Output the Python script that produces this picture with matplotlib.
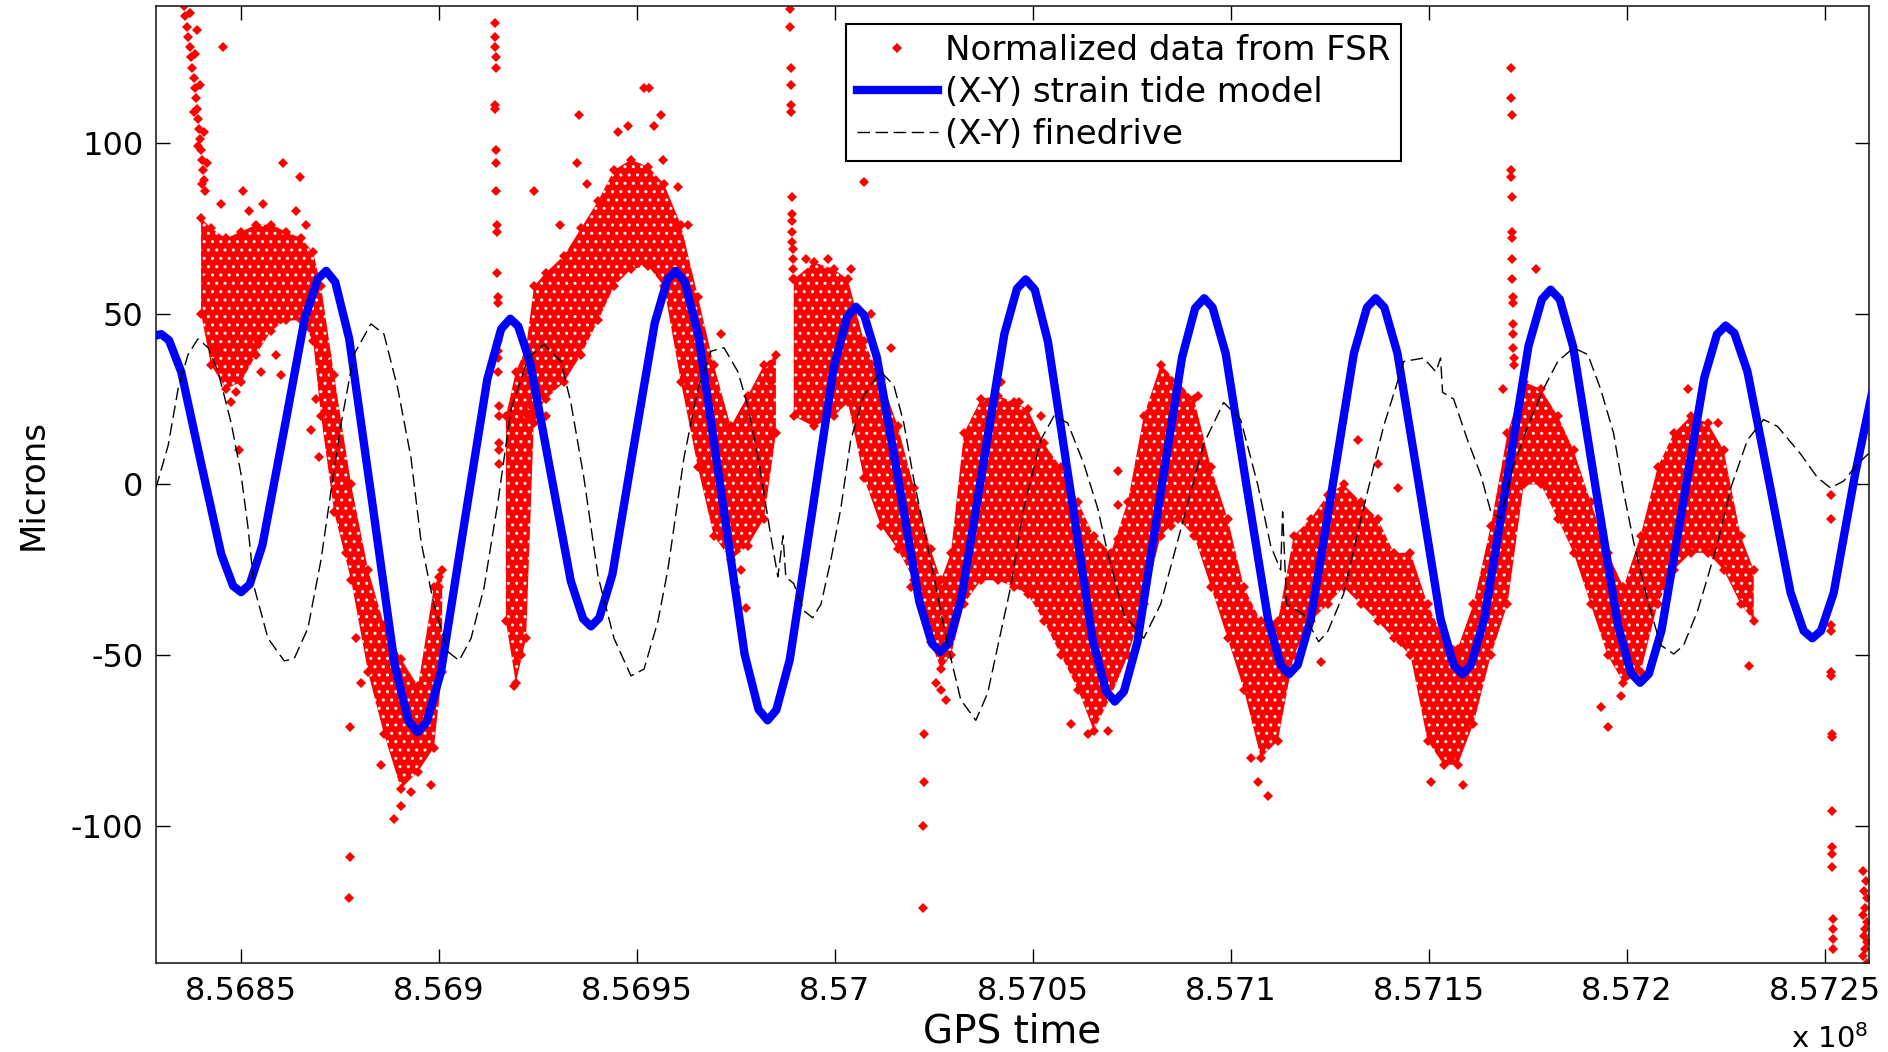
import matplotlib
matplotlib.use("Agg")
import matplotlib.pyplot as plt

nan = float('nan')

# GPS time is given in units of 1e8 s (the axis carries "x 10^8")

# (X-Y) strain tide model
tide_t = [8.568285, 8.568298, 8.568318, 8.568349, 8.568399, 8.568450, 8.568480,
          8.568500, 8.568522, 8.568554, 8.568608, 8.568661, 8.568694,
          8.568715, 8.568738, 8.568773, 8.568831, 8.568888, 8.568923,
          8.568946, 8.568969, 8.569005, 8.569063, 8.569122, 8.569157,
          8.569180, 8.569200, 8.569231, 8.569282, 8.569333, 8.569364,
          8.569384, 8.569405, 8.569438, 8.569491, 8.569545, 8.569577,
          8.569598, 8.569621, 8.569656, 8.569714, 8.569772, 8.569807,
          8.569830, 8.569852, 8.569886, 8.569942, 8.569997, 8.570031,
          8.570053, 8.570074, 8.570106, 8.570160, 8.570213, 8.570245,
          8.570266, 8.570288, 8.570320, 8.570374, 8.570428, 8.570460,
          8.570482, 8.570505, 8.570538, 8.570595, 8.570651, 8.570685,
          8.570707, 8.570730, 8.570764, 8.570820, 8.570877, 8.570910,
          8.570933, 8.570954, 8.570987, 8.571040, 8.571094, 8.571126,
          8.571147, 8.571169, 8.571202, 8.571257, 8.571311, 8.571344,
          8.571366, 8.571388, 8.571421, 8.571476, 8.571530, 8.571563,
          8.571585, 8.571607, 8.571641, 8.571697, 8.571752, 8.571786,
          8.571808, 8.571831, 8.571865, 8.571921, 8.571978, 8.572011,
          8.572034, 8.572056, 8.572088, 8.572142, 8.572196, 8.572228,
          8.572250, 8.572272, 8.572305, 8.572360, 8.572414, 8.572447,
          8.572469, 8.572491, 8.572523, 8.572577, 8.572631]
tide_um = [43.6, 44.0, 42.2, 32.9, 6.2, -20.4, -29.7,
           -31.5, -29.2, -17.7, 15.5, 48.7, 60.2,
           62.5, 59.2, 42.7, -5.0, -52.7, -69.2,
           -72.5, -69.5, -54.8, -12.0, 30.8, 45.5,
           48.5, 46.3, 35.3, 3.5, -28.3, -39.3,
           -41.5, -39.0, -26.3, 10.5, 47.3, 60.0,
           62.5, 59.3, 43.2, -3.2, -49.7, -65.8,
           -69.0, -66.0, -51.3, -8.5, 34.3, 49.0,
           52.0, 49.5, 37.2, 1.5, -34.2, -46.5,
           -49.0, -46.3, -33.0, 5.5, 44.0, 57.3,
           60.0, 57.0, 41.9, -1.8, -45.4, -60.5,
           -63.5, -60.6, -46.2, -4.5, 37.2, 51.6,
           54.5, 51.8, 38.4, -0.5, -39.4, -52.8,
           -55.5, -52.8, -39.4, -0.5, 38.4, 51.8,
           54.5, 51.8, 38.4, -0.5, -39.4, -52.8,
           -55.5, -52.7, -39.0, 0.8, 40.5, 54.2,
           57.0, 54.2, 40.2, -0.5, -41.2, -55.2,
           -58.0, -55.4, -42.7, -5.8, 31.2, 43.9,
           46.5, 44.3, 33.1, 0.8, -31.6, -42.8,
           -45.0, -42.8, -31.7, 3.0, 33.0]

# (X-Y) finedrive
fine_t = [8.568285, 8.568316, 8.568341, 8.568366, 8.568391, 8.568417, 8.568442, 8.568475,
          8.568500, 8.568518, 8.568533, 8.568568, 8.568609, 8.568634, 8.568669, 8.568702,
          8.568727, 8.568753, 8.568785, 8.568828, 8.568861, 8.568896, 8.568929, 8.568955,
          8.568987, 8.569023, 8.569051, 8.569081, 8.569114, 8.569149, 8.569182, 8.569225,
          8.569265, 8.569308, 8.569333, 8.569366, 8.569402, 8.569442, 8.569485, 8.569518,
          8.569553, 8.569578, 8.569619, 8.569654, 8.569687, 8.569720, 8.569755, 8.569780,
          8.569806, 8.569838, 8.569856, 8.569869, 8.569876, 8.569896, 8.569922, 8.569944,
          8.569965, 8.569990, 8.570015, 8.570040, 8.570073, 8.570116, 8.570149, 8.570174,
          8.570200, 8.570250, 8.570285, 8.570318, 8.570356, 8.570386, 8.570412, 8.570444,
          8.570477, 8.570520, 8.570553, 8.570588, 8.570629, 8.570664, 8.570689, 8.570730,
          8.570780, 8.570823, 8.570881, 8.570932, 8.570982, 8.571025, 8.571068, 8.571101,
          8.571126, 8.571131, 8.571141, 8.571184, 8.571222, 8.571245, 8.571285, 8.571333,
          8.571386, 8.571437, 8.571487, 8.571518, 8.571530, 8.571535, 8.571563, 8.571598,
          8.571631, 8.571657, 8.571682, 8.571707, 8.571750, 8.571790, 8.571826, 8.571866,
          8.571902, 8.571934, 8.571967, 8.571992, 8.572018, 8.572053, 8.572086, 8.572119,
          8.572144, 8.572179, 8.572205, 8.572230, 8.572263, 8.572305, 8.572346, 8.572381,
          8.572439, 8.572482, 8.572515, 8.572548, 8.572583, 8.572611]
fine_um = [-1, 11.5, 28, 38, 42.6, 40, 33, 18,
           3, -13, -30, -45, -51.6, -51, -42, -22,
           -2, 18, 38, 47, 44, 28, 8, -17,
           -35, -49, -51.5, -45, -30, -5, 22, 37,
           41, 36, 24, 2, -27, -45, -56, -54,
           -40, -25, 8, 28, 39, 40, 33, 23,
           8, -15, -27, -15, -27, -29, -37, -39,
           -35, -22, -7, 13, 26, 33, 29, 18,
           1, -27, -47, -63, -69, -61, -47, -30,
           -7, 13, 20, 18, 6, -7, -20, -38,
           -45, -35, -10, 12, 24, 19, 0, -18,
           -25, -8, -35, -38, -46, -43, -32, -8,
           17, 36, 37, 33, 37, 27, 25, 13,
           3, -8, -10, 3, 17, 28, 36, 40,
           38, 28, 15, -2, -17, -34, -47, -49.6,
           -47, -37, -27, -17, -1, 13, 19, 17,
           9, 2, -1, 1, 6, 9]

# Normalized FSR data: the dense part of the cloud, as its lower / upper edge
band_t = [8.568399, 8.568424, 8.568462, 8.568500, 8.568538, 8.568576, 8.568614, 8.568652,
          8.568682, 8.568702, 8.568735, 8.568778, 8.568821, 8.568861, 8.568904, 8.568947,
          8.568987, 8.569008, nan,
          8.569169, 8.569194, 8.569220, 8.569240, 8.569270, 8.569316, 8.569359, 8.569402,
          8.569442, 8.569485, 8.569528, 8.569568, 8.569611, 8.569654, 8.569694, 8.569737,
          8.569780, 8.569821, 8.569851, nan,
          8.569896, 8.569947, 8.569997, 8.570033, 8.570073, 8.570116, 8.570159, 8.570200,
          8.570242, 8.570268, 8.570293, 8.570326, 8.570369, 8.570412, 8.570452, 8.570487,
          8.570528, 8.570571, 8.570614, 8.570654, 8.570697, 8.570740, 8.570780, 8.570823,
          8.570866, 8.570907, 8.570950, 8.570992, 8.571033, 8.571076, 8.571119, 8.571159,
          8.571202, 8.571245, 8.571285, 8.571328, 8.571371, 8.571412, 8.571454, 8.571497,
          8.571538, 8.571573, 8.571613, 8.571657, 8.571699, 8.571740, 8.571783, 8.571826,
          8.571866, 8.571909, 8.571952, 8.571992, 8.572035, 8.572078, 8.572119, 8.572162,
          8.572205, 8.572245, 8.572288, 8.572321]
band_lo = [50, 35, 28, 30, 38, 45, 48, 48,
           42, 20, -8, -28, -55, -73, -89, -84,
           -77, -55, nan,
           -40, -58, -45, 20, 25, 30, 38, 48,
           58, 63, 64, 58, 30, 5, -15, -22,
           -18, -10, 15, nan,
           20, 17, 20, 24, 2, -12, -19, -28,
           -46, -54, -50, -35, -28, -28, -30, -32,
           -40, -50, -60, -72, -62, -50, -35, -15,
           -10, -15, -30, -45, -60, -80, -75, -50,
           -40, -35, -30, -35, -40, -45, -50, -75,
           -82, -82, -70, -50, -35, 0, 0, -10,
           -20, -35, -50, -58, -55, -35, -25, -20,
           -20, -25, -35, -40]
band_hi = [78, 75, 72, 74, 76, 76, 74, 72,
           68, 58, 32, 0, -25, -41, -51, -59,
           -30, -25, nan,
           20, 33, 40, 58, 62, 67, 75, 83,
           92, 95, 93, 88, 76, 55, 35, 17,
           26, 35, 38, nan,
           60, 65, 63, 60, 42, 31, 17, -1,
           -19, -28, -20, 15, 25, 26, 24, 22,
           12, 5, -5, -15, -20, -5, 20, 35,
           30, 25, 5, -10, -30, -40, -40, -15,
           -10, -3, 0, -5, -10, -20, -20, -35,
           -45, -48, -35, -12, 15, 30, 28, 20,
           10, -5, -20, -30, -15, 5, 15, 20,
           18, 10, -15, -25]

# Normalized FSR data: sparse samples, spikes and outliers (time, microns)
fsr_sparse = [
    # early spike
    (8.568356, 140), (8.568359, 137), (8.568364, 134), (8.568366, 131), (8.568371, 128),
    (8.568374, 125), (8.568376, 122), (8.568381, 119), (8.568384, 116), (8.568386, 113),
    (8.568389, 110), (8.568391, 107), (8.568394, 104), (8.568396, 101), (8.568399, 98),
    (8.568402, 95), (8.568404, 92), (8.568407, 89), (8.568409, 86), (8.568389, 133),
    (8.568371, 138), (8.568384, 126), (8.568396, 117), (8.568407, 103), (8.568414, 94),
    (8.568381, 109), (8.568391, 99), (8.568402, 88), (8.568455, 128),
    # first blob and trough
    (8.568606, 94), (8.568649, 90), (8.568505, 86), (8.568639, 80), (8.568449, 82),
    (8.568551, 33), (8.568601, 32), (8.568588, 38), (8.568543, 42), (8.568495, 10),
    (8.568677, 16), (8.568475, 24), (8.568487, 27), (8.568437, 40), (8.568697, 8),
    (8.568689, 25), (8.568717, 38), (8.568412, 60), (8.568556, 82), (8.568520, 80),
    (8.568664, 76),
    (8.568775, -109), (8.568773, -121), (8.568775, -71), (8.568886, -98), (8.568904, -94),
    (8.568854, -82), (8.569000, -27), (8.569000, -30), (8.568980, -88), (8.568803, -58),
    (8.568790, -45), (8.568929, -90), (8.568765, -20), (8.568833, -35),
    # second spike
    (8.569141, 135), (8.569141, 131), (8.569141, 128), (8.569144, 125), (8.569144, 122),
    (8.569141, 111), (8.569141, 110), (8.569144, 98), (8.569144, 94), (8.569144, 86),
    (8.569147, 76), (8.569147, 74), (8.569147, 62), (8.569149, 55), (8.569149, 53),
    (8.569149, 42), (8.569149, 39), (8.569149, 37), (8.569149, 33), (8.569152, 23),
    (8.569152, 20), (8.569152, 12), (8.569152, 10), (8.569152, 6),
    # big rising blob
    (8.569354, 108), (8.569349, 94), (8.569374, 88), (8.569240, 86), (8.569306, 76),
    (8.569518, 116), (8.569530, 116), (8.569561, 108), (8.569477, 105), (8.569452, 103),
    (8.569543, 105), (8.569566, 95), (8.569604, 87), (8.569629, 76), (8.569232, 23),
    (8.569225, 20), (8.569240, 18), (8.569270, 20), (8.569207, -50), (8.569189, -59),
    (8.569712, 44), (8.569654, 35), (8.569694, 18), (8.569838, 30), (8.569775, -36),
    (8.569750, -30), (8.569763, -25),
    # third spike
    (8.569886, 139), (8.569886, 134), (8.569889, 122), (8.569889, 117), (8.569889, 111),
    (8.569889, 109), (8.569891, 84), (8.569891, 79), (8.569891, 77), (8.569891, 74),
    (8.569891, 71), (8.569894, 69), (8.569894, 66), (8.569894, 63), (8.569894, 60),
    (8.570073, 88.5),
    # middle part
    (8.569982, 66), (8.570040, 63), (8.569927, 66), (8.570091, 50), (8.570141, 40),
    (8.570192, -30), (8.570225, -73), (8.570225, -87), (8.570222, -100), (8.570222, -124),
    (8.570268, -60), (8.570280, -63), (8.570255, -58),
    (8.570715, 4), (8.570715, -6), (8.570715, -16), (8.570849, -12), (8.570917, 26),
    (8.570596, -70), (8.570639, -73), (8.570689, -72), (8.571094, -91), (8.571068, -87),
    (8.571051, -80), (8.571321, 13), (8.571422, -1), (8.571371, 6), (8.571505, -87),
    (8.571227, -52), (8.571429, -46), (8.570465, 24), (8.570520, 20), (8.570419, 30),
    # fourth spike and late part
    (8.571707, 122), (8.571707, 113), (8.571710, 108), (8.571707, 92), (8.571707, 90),
    (8.571710, 84), (8.571710, 74), (8.571710, 72), (8.571710, 66), (8.571710, 60),
    (8.571712, 55), (8.571712, 53), (8.571712, 47), (8.571712, 44), (8.571712, 40),
    (8.571715, 37), (8.571715, 35), (8.571770, 63), (8.571687, 28), (8.572154, 28),
    (8.572230, 18), (8.571952, -71), (8.572308, -53), (8.571556, -80), (8.571586, -88),
    (8.571934, -65), (8.571985, -62),
    # end outliers
    (8.572515, -3), (8.572515, -10), (8.572515, -41), (8.572515, -43), (8.572515, -55),
    (8.572515, -56), (8.572518, -73), (8.572518, -74), (8.572518, -95.5), (8.572518, -106),
    (8.572518, -108), (8.572518, -112), (8.572520, -127), (8.572520, -130), (8.572520, -133),
    (8.572520, -136),
    (8.572596, -113), (8.572604, -116), (8.572599, -119), (8.572606, -121), (8.572601, -124),
    (8.572596, -126), (8.572606, -128), (8.572601, -130), (8.572599, -132), (8.572606, -134),
    (8.572601, -136), (8.572596, -138), (8.572606, -140),
]
fsr_t = [p[0] for p in fsr_sparse]
fsr_um = [p[1] for p in fsr_sparse]

xticks = [8.5685, 8.569, 8.5695, 8.57, 8.5705, 8.571, 8.5715, 8.572, 8.5725]
xtick_labels = ['8.5685', '8.569', '8.5695', '8.57', '8.5705', '8.571', '8.5715', '8.572', '8.5725']
yticks = [-100, -50, 0, 50, 100]

plt.rcParams['font.family'] = ['DejaVu Sans']
plt.rcParams['axes.unicode_minus'] = False
plt.rcParams['hatch.linewidth'] = 1.0

fig = plt.figure(figsize=(18.88, 10.52), dpi=100)
ax = fig.add_axes([0.0826, 0.0846, 0.9073, 0.9097])

red = '#ff0000'
# dense cloud, with a fine white grain to mimic the packed markers
ax.fill_between(band_t, band_lo, band_hi, facecolor=red, edgecolor='white',
                hatch='..', lw=0, zorder=1)
ax.plot(band_t, band_lo, 'D', color=red, ms=5, mew=0, zorder=1)
ax.plot(band_t, band_hi, 'D', color=red, ms=5, mew=0, zorder=1)
ax.plot(fsr_t, fsr_um, 'D', color=red, ms=5, mew=0, ls='none', zorder=1,
        label='Normalized data from FSR')
ax.plot(tide_t, tide_um, color='#0000ff', lw=6, zorder=3,
        label='(X-Y) strain tide model')
ax.plot(fine_t, fine_um, color='black', lw=1, dashes=(9, 4), zorder=4,
        label='(X-Y) finedrive')

ax.set_xlim(8.568285, 8.572612)
ax.set_ylim(-140, 140)
ax.set_xticks(xticks)
ax.set_xticklabels(xtick_labels)
ax.set_yticks(yticks)
ax.tick_params(direction='in', length=10, width=1, top=True, right=True,
               labelsize=23, pad=9)
for s in ax.spines.values():
    s.set_linewidth(1.2)
    s.set_color('#222222')

ax.set_xlabel('GPS time', fontsize=28)
ax.xaxis.set_label_coords(0.5, -0.052)
ax.set_ylabel('Microns', fontsize=24.5)
ax.yaxis.set_label_coords(-0.062, 0.5)
fig.text(0.9895, 0.004, r'x 10$^{8}$', ha='right', va='baseline', fontsize=21)

leg = ax.legend(loc='upper left', bbox_to_anchor=(0.4031, 0.9812), borderaxespad=0,
                fontsize=24.5, fancybox=False, framealpha=1, edgecolor='black',
                handlelength=2.4, handletextpad=0.2, borderpad=0.3,
                labelspacing=0.26)
leg.get_frame().set_linewidth(1.5)

fig.savefig('out.png', dpi=100)
